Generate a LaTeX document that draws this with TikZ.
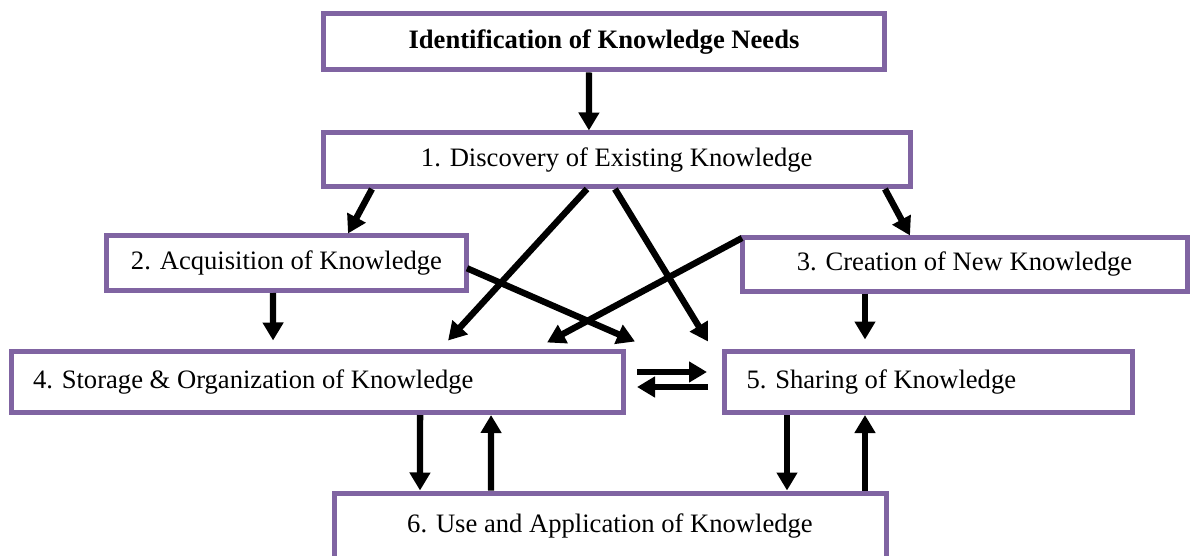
\documentclass[tikz,border=0pt]{standalone}
\usepackage{fontspec}
\setmainfont{Liberation Serif}
\usetikzlibrary{arrows.meta}
\definecolor{boxpurple}{HTML}{8064A2}
\tikzset{
  box/.style={draw=boxpurple, line width=2.5pt, rectangle, inner sep=0pt, fill=white,
    font=\fontsize{13.3}{16}\selectfont},
  arr/.style={line width=3.2pt, -{Triangle[length=9pt,width=10pt]}}
}
\begin{document}
\begin{tikzpicture}[x=0.5pt,y=-0.5pt]
\useasboundingbox (0,0) rectangle (1190,556);
% boxes
\node[box, minimum width=280.5pt, minimum height=28.25pt] (b0) at (604,41.75) {\textbf{Identification of Knowledge Needs}};
\node[box, minimum width=293.25pt, minimum height=26.75pt] (b1) at (616.75,159.75) {1. Discovery of Existing Knowledge};
\node[box, minimum width=180pt, minimum height=27.25pt] (b2) at (286.5,263.25) {2. Acquisition of Knowledge};
\node[box, minimum width=222.5pt, minimum height=26.5pt] (b3) at (964.5,264.5) {3. Creation of New Knowledge};
\node[box, minimum width=306.25pt, minimum height=30.5pt, inner xsep=11pt] (b4) at (317.25,382) {\makebox[284.25pt][l]{4. Storage \& Organization of Knowledge}};
\node[box, minimum width=204pt, minimum height=30.5pt, inner xsep=11pt] (b5) at (928.5,382) {\makebox[182pt][l]{5. Sharing of Knowledge}};
\node[box, minimum width=276pt, minimum height=33.5pt] (b6) at (610,526.5) {6. Use and Application of Knowledge};
% connectors
\draw[arr] ([xshift=-7.5pt]b0.south) -- ([xshift=-13.9pt]b1.north);
\draw[arr] ([xshift=-122.4pt]b1.south) -- ([xshift=30.75pt]b2.north);
\draw[arr] ([xshift=134.1pt]b1.south) -- ([xshift=-27.25pt]b3.north);
\draw[arr] ([xshift=-14.9pt]b1.south) -- ([xshift=65.4pt,yshift=4.25pt]b4.north);
\draw[arr] ([xshift=-0.9pt]b1.south) -- ([xshift=-110.25pt,yshift=3.75pt]b5.north);
\draw[arr] ([xshift=1.25pt,yshift=-1.25pt]b3.north west) -- ([xshift=114.9pt,yshift=3.25pt]b4.north);
\draw[arr] ([xshift=-1pt,yshift=-2.5pt]b2.east) -- ([xshift=-43.5pt,yshift=3.75pt]b5.north west);
\draw[arr] ([xshift=-6.75pt]b2.south) -- ([xshift=-22.1pt,yshift=4.25pt]b4.north);
\draw[arr] ([xshift=-49.75pt]b3.south) -- ([xshift=-31.75pt,yshift=4.75pt]b5.north);
\draw[arr] ([xshift=5.5pt,yshift=5pt]b4.east) -- ([xshift=-7.5pt,yshift=5pt]b5.west);
\draw[arr] ([xshift=-7pt,yshift=-2.5pt]b5.west) -- ([xshift=5.5pt,yshift=-2.5pt]b4.east);
\draw[arr] ([xshift=51.4pt]b4.south) -- ([xshift=-95pt]b6.north);
\draw[arr] ([xshift=-59.5pt]b6.north) -- ([xshift=86.9pt]b4.south);
\draw[arr] ([xshift=-70.75pt]b5.south) -- ([xshift=88.5pt]b6.north);
\draw[arr] ([xshift=127.5pt]b6.north) -- ([xshift=-31.75pt]b5.south);
\end{tikzpicture}
\end{document}
